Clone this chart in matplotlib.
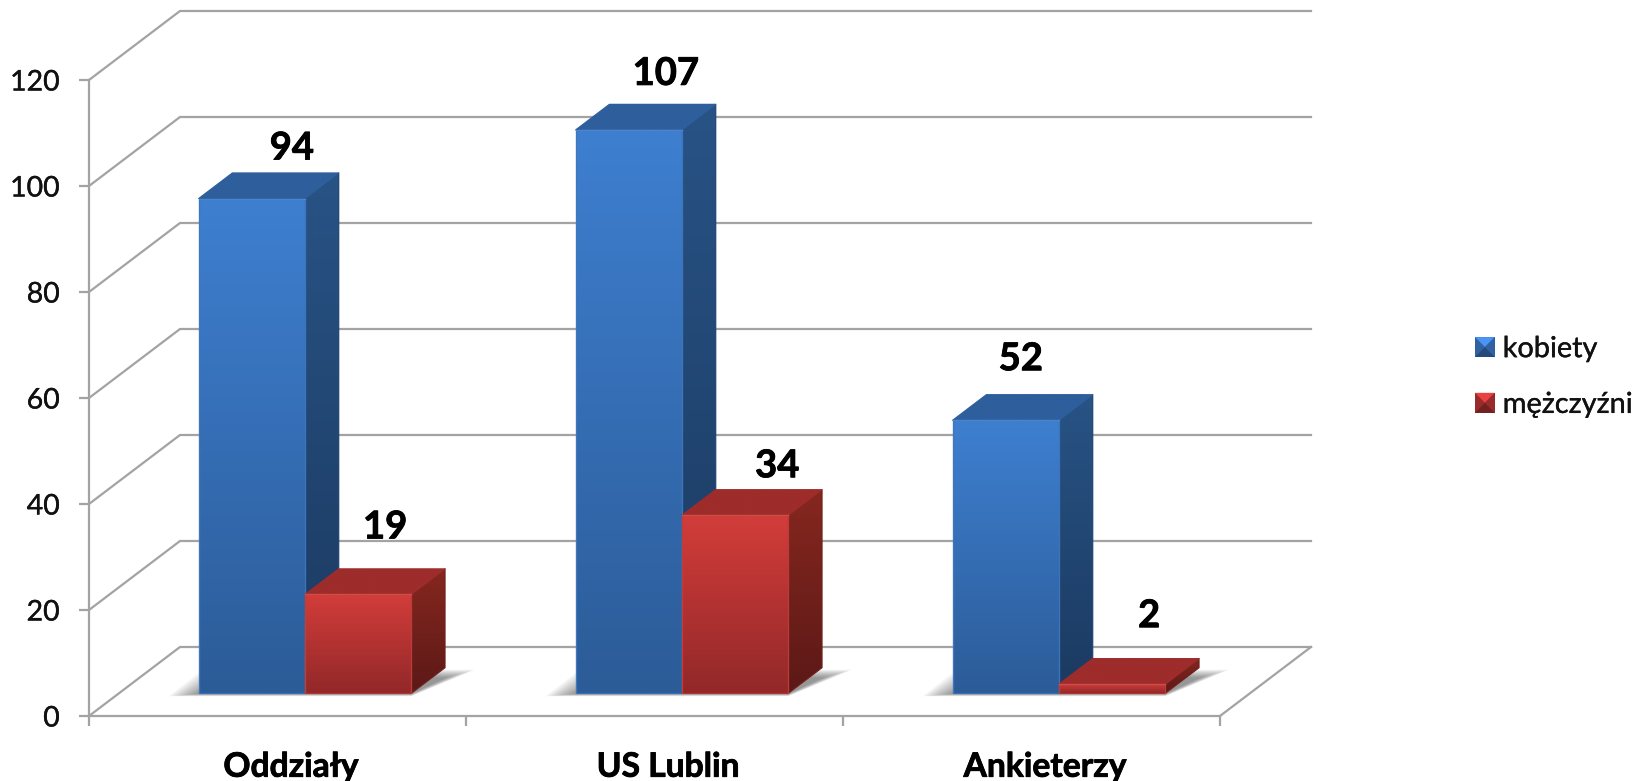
import numpy as np
import matplotlib
matplotlib.use("Agg")
import matplotlib.pyplot as plt
import matplotlib.patheffects as pe
from matplotlib.patches import Polygon, Patch
from matplotlib.legend_handler import HandlerBase
from matplotlib.colors import to_rgb

categories = ["Oddziały", "US Lublin", "Ankieterzy"]
series_names = ["kobiety", "mężczyźni"]
kobiety = [94, 107, 52]
mezczyzni = [19, 34, 2]
y_ticks = [0, 20, 40, 60, 80, 100, 120]

W, H = 1648, 781
plt.rcParams["font.family"] = ["Lato", "DejaVu Sans"]
fig = plt.figure(figsize=(W / 100, H / 100), dpi=100, facecolor="white")
L, R, B, T = 89, 1220, 716, 80
ax = fig.add_axes([L / W, 1 - B / H, (R - L) / W, (B - T) / H])
ax.set_xlim(0, 3)
ax.set_ylim(0, 120)
ax.patch.set_visible(False)

PX = 3 / (R - L)
PY = 120 / (B - T)
DX, DY = 91 * PX, 69 * PY      # wall depth in data units
GRID = "#a3a3a3"
BAR_W = 106.3 * PX
D0, D1 = 0.33, 0.70            # front and back of the bars in the depth
SHIFT = -2.5 * PX
STROKE = [pe.withStroke(linewidth=0.6, foreground="black")]
THIN = [pe.withStroke(linewidth=0.25, foreground="#111111")]

# walls and floor
for v in y_ticks:
    ax.plot([0, DX, 3 + DX], [v, v + DY, v + DY], color=GRID, lw=1.6,
            clip_on=False, zorder=1, solid_joinstyle="miter")
ax.plot([3, 3 + DX], [0, DY], color=GRID, lw=1.6, clip_on=False, zorder=1)

# axes
for s in ["top", "right"]:
    ax.spines[s].set_visible(False)
for s in ["left", "bottom"]:
    ax.spines[s].set_color(GRID)
    ax.spines[s].set_linewidth(1.6)
    ax.spines[s].set_zorder(2)
ax.set_yticks(y_ticks)
ax.set_xticks([0, 1, 2, 3])
ax.set_xticklabels([])
ax.set_xticks([i + 0.5 + 13.5 * PX for i in range(3)], minor=True)
ax.set_xticklabels(categories, minor=True, fontsize=24.2, fontweight="bold", color="black",
                   path_effects=STROKE)
ax.tick_params(axis="x", which="major", length=7, width=1.6, color=GRID)
ax.tick_params(axis="x", which="minor", length=0, pad=25)
ax.tick_params(axis="y", length=7, width=1.6, color=GRID, labelsize=20.5, pad=14, labelcolor="#111111")
for t in ax.get_yticklabels():
    t.set_path_effects(THIN)


def face(pts, top, bottom, z, edge=0.9):
    pts = np.array(pts)
    grad = np.linspace(to_rgb(bottom), to_rgb(top), 64)[:, None, :]
    im = ax.imshow(grad, origin="lower", aspect="auto", interpolation="bilinear",
                   extent=[pts[:, 0].min(), pts[:, 0].max(), pts[:, 1].min(), pts[:, 1].max()],
                   zorder=z, clip_on=True)
    clip = Polygon(pts, closed=True, transform=ax.transData, fill=False, lw=0)
    ax.add_patch(clip)
    im.set_clip_path(clip)
    ax.add_patch(Polygon(pts, closed=True, fill=False,
                         ec=(0.5 * np.array(to_rgb(top)) + 0.5 * np.array(to_rgb(bottom))),
                         lw=edge, joinstyle="round", zorder=z, clip_on=False))


def top_of(v):
    # front top edge of a bar: the bevel takes a little off the height
    return D0 * DY + v * 0.996 - 1.5 * PY


def bar(x0, v, cols, z):
    fx0, fx1 = x0 + D0 * DX, x0 + D0 * DX + BAR_W
    y0, y1 = D0 * DY, top_of(v)
    ddx, ddy = (D1 - D0) * DX, (D1 - D0) * DY
    face([(fx1, y0), (fx1 + ddx, y0 + ddy), (fx1 + ddx, y1 + ddy), (fx1, y1)], cols[2], cols[3], z)
    face([(fx0, y1), (fx1, y1), (fx1 + ddx, y1 + ddy), (fx0 + ddx, y1 + ddy)], cols[4], cols[4], z + 0.1)
    face([(fx0, y0), (fx1, y0), (fx1, y1), (fx0, y1)], cols[0], cols[1], z + 0.2)
    ax.plot([fx0, fx1], [y1, y1], color=cols[5], lw=1.0, alpha=0.6, zorder=z + 0.3, clip_on=False)
    ax.plot([fx0, fx0], [y0, y1], color=cols[5], lw=1.0, alpha=0.25, zorder=z + 0.3, clip_on=False)
    ax.plot([fx1, fx1], [y0, y1], color=cols[5], lw=1.0, alpha=0.2, zorder=z + 0.3, clip_on=False)


BLUE = ("#3e7fd0", "#2c5c98", "#285385", "#1b3a61", "#2e5f9c", "#5c94dc")
RED = ("#d23d3a", "#932829", "#86271f", "#5c1917", "#9d2c2b", "#e0605a")

for i in range(len(categories)):
    x0 = i + (1 - 2 * BAR_W) / 2 + SHIFT
    x1 = x0 + 2 * BAR_W
    # soft shadow on the floor
    n = 16
    for k in range(n):
        e = 1 - k / (n - 1)
        ex = (1 + 29 * e) * PX
        ey = (0.5 + 2.5 * e) * PY
        y_a = D0 * DY - ey
        y_b = D1 * DY - (2 + 8 * (1 - e)) * PY
        ax.add_patch(Polygon([(x0 + D0 * DX - ex, y_a), (x1 + D0 * DX, y_a),
                              (x1 + D1 * DX + ex, y_b), (x0 + D1 * DX - ex, y_b)],
                             closed=True, fc="#303030", ec="none", alpha=0.04,
                             zorder=3, clip_on=False))
    bar(x0, kobiety[i], BLUE, 4 + i)
    bar(x0 + BAR_W, mezczyzni[i], RED, 4.5 + i)

# data labels, offset in pixels from the front top centre of each bar
off_blue = [(40, 50), (37, 56), (15, 61)]
off_red = [(27, 67), (42, 49), (37, 68)]
for i in range(len(categories)):
    x0 = i + (1 - 2 * BAR_W) / 2 + SHIFT + D0 * DX
    for xc, v, o in ((x0 + BAR_W / 2, kobiety[i], off_blue[i]), (x0 + 1.5 * BAR_W, mezczyzni[i], off_red[i])):
        ax.annotate(str(v), xy=(xc, top_of(v)), xytext=o, textcoords="offset pixels",
                    ha="center", va="center", fontsize=27.5, fontweight="bold",
                    color="black", zorder=20, annotation_clip=False, path_effects=STROKE)


class BevelHandler(HandlerBase):
    def create_artists(self, legend, orig, xd, yd, w, h, fs, trans):
        c = np.array(to_rgb(orig.get_facecolor()))
        x0, y0 = -xd, -yd
        cx, cy = x0 + w / 2, y0 + h / 2
        a, b, c2, d = (x0, y0), (x0 + w, y0), (x0 + w, y0 + h), (x0, y0 + h)
        m = (cx, cy)
        tris = [([a, b, c2, d], c * 0.75), ([a, m, b], c * 0.62), ([a, d, m], c * 0.82),
                ([b, c2, m], c * 0.82), ([d, c2, m], np.clip(c * 1.25, 0, 1))]
        return [Polygon(p, closed=True, fc=col, ec="none", transform=trans) for p, col in tris]


handles = [Patch(fc="#3a76c4", label=series_names[0]), Patch(fc="#b93434", label=series_names[1])]
leg = ax.legend(handles=handles, loc="center left", frameon=False, fontsize=20.8,
                bbox_to_anchor=(1475 / W, 1 - 377 / H), bbox_transform=fig.transFigure,
                handler_map={Patch: BevelHandler()}, handlelength=0.68, handleheight=0.68,
                handletextpad=0.28, labelspacing=1.03, borderpad=0, borderaxespad=0)
for t in leg.get_texts():
    t.set_color("#111111")
    t.set_path_effects(THIN)

ax.set_xlim(0, 3)
ax.set_ylim(0, 120)
fig.savefig("out.png", dpi=100)
